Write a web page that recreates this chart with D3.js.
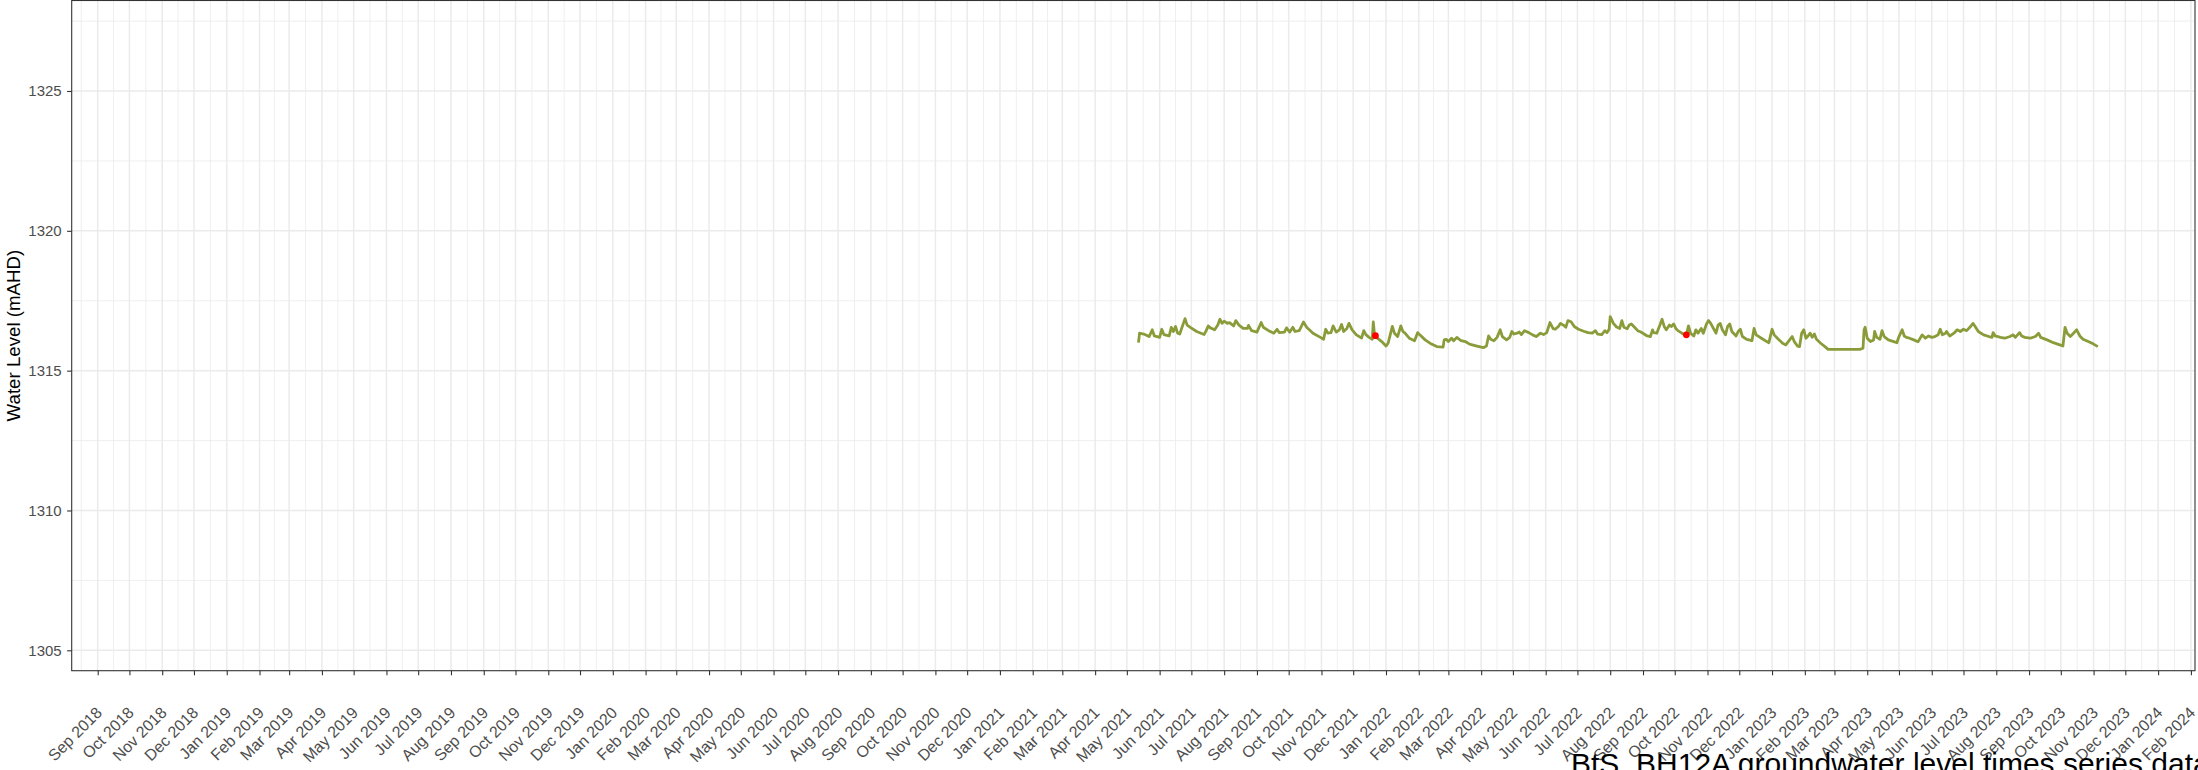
<!DOCTYPE html>
<html>
<head>
<meta charset="utf-8">
<script src="https://cdn.jsdelivr.net/npm/d3@7"></script>
<style>
body { margin: 0; background: #fff; }
text { font-family: "Liberation Sans", Arial, sans-serif; }
</style>
</head>
<body>
<svg id="chart" width="2198" height="770"></svg>
<script>
// logger readings (date, water level mAHD)
const obsDates = [
  "2021-05-12","2021-05-13","2021-05-17","2021-05-22","2021-05-25","2021-05-27","2021-06-01","2021-06-03","2021-06-05","2021-06-10",
  "2021-06-12","2021-06-14","2021-06-16","2021-06-18","2021-06-20","2021-06-25","2021-06-27","2021-06-30","2021-07-06","2021-07-13",
  "2021-07-15","2021-07-17","2021-07-19","2021-07-23","2021-07-26","2021-07-28","2021-07-30","2021-08-01","2021-08-04","2021-08-06",
  "2021-08-10","2021-08-12","2021-08-15","2021-08-19","2021-08-23","2021-08-24","2021-08-27","2021-09-01","2021-09-05","2021-09-07",
  "2021-09-12","2021-09-17","2021-09-20","2021-09-22","2021-09-27","2021-09-29","2021-10-02","2021-10-05","2021-10-07","2021-10-11",
  "2021-10-15","2021-10-18","2021-10-24","2021-10-31","2021-11-03","2021-11-05","2021-11-07","2021-11-10","2021-11-12","2021-11-15",
  "2021-11-18","2021-11-20","2021-11-22","2021-11-25","2021-11-27","2021-11-30","2021-12-04","2021-12-09","2021-12-11","2021-12-13",
  "2021-12-16","2021-12-19","2021-12-20","2021-12-21","2021-12-22","2021-12-23","2021-12-28",
  "2022-01-01","2022-01-03","2022-01-07","2022-01-09","2022-01-12","2022-01-15","2022-01-17","2022-01-19","2022-01-23","2022-01-28",
  "2022-01-31","2022-02-02","2022-02-07","2022-02-13","2022-02-18","2022-02-24","2022-02-25","2022-02-27","2022-03-01","2022-03-04",
  "2022-03-06","2022-03-09","2022-03-13","2022-03-17","2022-03-21","2022-03-28","2022-04-03","2022-04-06","2022-04-08","2022-04-10",
  "2022-04-13","2022-04-16","2022-04-19","2022-04-21","2022-04-25","2022-04-28","2022-04-30","2022-05-02","2022-05-05","2022-05-07",
  "2022-05-09","2022-05-12","2022-05-16","2022-05-20","2022-05-23","2022-05-27","2022-05-30","2022-06-02","2022-06-05","2022-06-08",
  "2022-06-10","2022-06-13","2022-06-15","2022-06-18","2022-06-20","2022-06-22","2022-06-25","2022-06-28","2022-07-02","2022-07-07",
  "2022-07-11","2022-07-15","2022-07-18","2022-07-20","2022-07-24","2022-07-27","2022-07-29","2022-07-31","2022-08-01","2022-08-04",
  "2022-08-07","2022-08-10","2022-08-12","2022-08-14","2022-08-17","2022-08-19","2022-08-21","2022-08-24","2022-08-27","2022-08-30",
  "2022-09-02","2022-09-05","2022-09-08","2022-09-10","2022-09-11","2022-09-14","2022-09-17","2022-09-19","2022-09-21","2022-09-23",
  "2022-09-26","2022-09-28","2022-09-30","2022-10-02","2022-10-04","2022-10-07","2022-10-09","2022-10-12","2022-10-14","2022-10-16",
  "2022-10-19","2022-10-21","2022-10-23","2022-10-26","2022-10-28","2022-10-31","2022-11-02","2022-11-04","2022-11-07","2022-11-09",
  "2022-11-11","2022-11-13","2022-11-15","2022-11-18","2022-11-20","2022-11-22","2022-11-24","2022-11-28","2022-11-30","2022-12-02",
  "2022-12-04","2022-12-08","2022-12-13","2022-12-15","2022-12-17","2022-12-22","2022-12-27","2022-12-29",
  "2023-01-01","2023-01-03","2023-01-07","2023-01-11","2023-01-14","2023-01-18","2023-01-20","2023-01-22","2023-01-25","2023-01-27",
  "2023-01-29","2023-01-31","2023-02-02","2023-02-04","2023-02-06","2023-02-08","2023-02-10","2023-02-12","2023-02-16","2023-02-20",
  "2023-02-23","2023-03-25","2023-03-28","2023-03-29","2023-03-30","2023-04-01","2023-04-04","2023-04-07","2023-04-08","2023-04-10",
  "2023-04-13","2023-04-15","2023-04-17","2023-04-21","2023-04-26","2023-04-29","2023-05-01","2023-05-04","2023-05-06","2023-05-08",
  "2023-05-11","2023-05-15","2023-05-19","2023-05-22","2023-05-23","2023-05-26","2023-05-29","2023-06-01","2023-06-04","2023-06-07",
  "2023-06-09","2023-06-11","2023-06-14","2023-06-15","2023-06-18","2023-06-22","2023-06-25","2023-06-28","2023-07-01","2023-07-04",
  "2023-07-07","2023-07-10","2023-07-12","2023-07-15","2023-07-20","2023-07-25","2023-07-28","2023-07-29","2023-07-31","2023-08-05",
  "2023-08-09","2023-08-14","2023-08-17","2023-08-19","2023-08-23","2023-08-25","2023-08-28","2023-09-02","2023-09-07","2023-09-10",
  "2023-09-12","2023-09-18","2023-09-24","2023-09-30","2023-10-03","2023-10-05","2023-10-07","2023-10-10","2023-10-13","2023-10-16",
  "2023-10-19","2023-10-22","2023-10-27","2023-11-01","2023-11-05"
];
const obsLevels = [
  1316.00,1316.34,1316.31,1316.22,1316.46,1316.24,1316.19,1316.48,1316.29,1316.24,
  1316.55,1316.40,1316.58,1316.34,1316.31,1316.86,1316.63,1316.55,1316.40,1316.29,
  1316.43,1316.60,1316.53,1316.46,1316.63,1316.84,1316.69,1316.77,1316.69,1316.72,
  1316.60,1316.79,1316.63,1316.51,1316.51,1316.62,1316.43,1316.38,1316.72,1316.55,
  1316.43,1316.34,1316.48,1316.36,1316.38,1316.53,1316.38,1316.55,1316.40,1316.43,
  1316.74,1316.55,1316.34,1316.19,1316.12,1316.48,1316.34,1316.36,1316.60,1316.38,
  1316.46,1316.65,1316.40,1316.51,1316.69,1316.46,1316.28,1316.17,1316.43,1316.29,
  1316.19,1316.12,1316.74,1316.34,1316.24,1316.19,1316.04,
  1315.88,1315.98,1316.58,1316.34,1316.22,1316.60,1316.40,1316.34,1316.16,1316.07,
  1316.36,1316.28,1316.10,1315.95,1315.86,1315.84,1316.10,1316.12,1316.04,1316.16,
  1316.07,1316.19,1316.07,1316.04,1315.95,1315.88,1315.82,1315.88,1316.24,1316.12,
  1316.07,1316.19,1316.46,1316.22,1316.10,1316.19,1316.40,1316.31,1316.34,1316.38,
  1316.29,1316.43,1316.36,1316.27,1316.22,1316.34,1316.29,1316.36,1316.72,1316.50,
  1316.48,1316.58,1316.69,1316.62,1316.55,1316.79,1316.75,1316.58,1316.48,1316.41,
  1316.36,1316.34,1316.43,1316.31,1316.29,1316.43,1316.36,1316.48,1316.93,1316.69,
  1316.56,1316.51,1316.79,1316.55,1316.50,1316.63,1316.67,1316.55,1316.43,1316.38,
  1316.31,1316.24,1316.22,1316.46,1316.36,1316.34,1316.63,1316.84,1316.58,1316.46,
  1316.63,1316.58,1316.67,1316.51,1316.43,1316.36,1316.31,1316.28,1316.60,1316.34,
  1316.24,1316.46,1316.34,1316.51,1316.34,1316.67,1316.79,1316.69,1316.48,1316.34,
  1316.63,1316.69,1316.46,1316.28,1316.58,1316.67,1316.40,1316.24,1316.40,1316.48,
  1316.22,1316.12,1316.07,1316.51,1316.28,1316.16,1316.04,1316.00,
  1316.48,1316.28,1316.12,1315.98,1315.92,1316.12,1316.22,1316.04,1315.88,1315.86,
  1316.34,1316.46,1316.16,1316.24,1316.34,1316.19,1316.31,1316.12,1315.98,1315.86,
  1315.76,1315.76,1315.80,1316.46,1316.55,1316.16,1316.04,1316.10,1316.40,1316.19,
  1316.12,1316.43,1316.22,1316.10,1316.04,1316.00,1316.22,1316.46,1316.24,1316.19,
  1316.16,1316.10,1316.03,1316.22,1316.28,1316.16,1316.24,1316.19,1316.22,1316.28,
  1316.48,1316.28,1316.34,1316.40,1316.24,1316.34,1316.46,1316.40,1316.48,1316.43,
  1316.55,1316.69,1316.58,1316.40,1316.28,1316.22,1316.19,1316.36,1316.24,1316.19,
  1316.16,1316.22,1316.28,1316.19,1316.36,1316.24,1316.19,1316.16,1316.22,1316.34,
  1316.19,1316.10,1316.00,1315.92,1315.88,1316.55,1316.34,1316.22,1316.34,1316.46,
  1316.24,1316.12,1316.04,1315.95,1315.86
];
// manual dip readings (red points)
const dipDates = ["2021-12-22", "2022-10-12"];
const dipLevels = [1316.25, 1316.28];

const yTicks = [1305, 1310, 1315, 1320, 1325];
const yMinorTicks = [1307.5, 1312.5, 1317.5, 1322.5, 1327.5];
const firstMonth = "2018-09-01";
const lastMonth = "2024-02-01";
const yTitle = "Water Level (mAHD)";
const chartTitle = "BtS_BH12A groundwater level times series data";

const panel = {left: 71.7, right: 2195, top: 0.5, bottom: 670.7};
const parse = d3.utcParse("%Y-%m-%d");

const x = d3.scaleUtc()
  .domain([parse(firstMonth), parse(lastMonth)])
  .range([97.7, 2190.9]);
const y = d3.scaleLinear()
  .domain([1305, 1325])
  .range([650.3, 91]);

const svg = d3.select("#chart");
svg.append("rect").attr("width", 2198).attr("height", 770).attr("fill", "#fff");

const months = d3.utcMonth.range(parse(firstMonth), d3.utcMonth.offset(parse(lastMonth), 1));
const minorX = months.map(m => (x(m) + x(d3.utcMonth.offset(m, -1))) / 2)
  .filter(v => v > panel.left && v < panel.right);

const grid = svg.append("g");
// minor grid
grid.selectAll(".vmin").data(minorX).enter().append("line")
  .attr("x1", d => d).attr("x2", d => d)
  .attr("y1", panel.top).attr("y2", panel.bottom)
  .attr("stroke", "#EBEBEB").attr("stroke-width", 0.8);
grid.selectAll(".hmin").data(yMinorTicks).enter().append("line")
  .attr("x1", panel.left).attr("x2", panel.right)
  .attr("y1", d => y(d)).attr("y2", d => y(d))
  .attr("stroke", "#EBEBEB").attr("stroke-width", 0.8);
// major grid
grid.selectAll(".vmaj").data(months).enter().append("line")
  .attr("x1", d => x(d)).attr("x2", d => x(d))
  .attr("y1", panel.top).attr("y2", panel.bottom)
  .attr("stroke", "#EBEBEB").attr("stroke-width", 1.5);
grid.selectAll(".hmaj").data(yTicks).enter().append("line")
  .attr("x1", panel.left).attr("x2", panel.right)
  .attr("y1", d => y(d)).attr("y2", d => y(d))
  .attr("stroke", "#EBEBEB").attr("stroke-width", 1.5);

const series = obsDates.map((d, i) => ({date: parse(d), level: obsLevels[i]}));
const line = d3.line().x(d => x(d.date)).y(d => y(d.level));
svg.append("path")
  .datum(series)
  .attr("d", line)
  .attr("fill", "none")
  .attr("stroke", "#8A9C3A")
  .attr("stroke-width", 2.8)
  .attr("stroke-linejoin", "round");

svg.selectAll(".dip").data(dipDates).enter().append("circle")
  .attr("cx", d => x(parse(d)))
  .attr("cy", (d, i) => y(dipLevels[i]))
  .attr("r", 3.4)
  .attr("fill", "#FF0000");

// panel border
svg.append("rect")
  .attr("x", panel.left).attr("y", panel.top)
  .attr("width", panel.right - panel.left).attr("height", panel.bottom - panel.top)
  .attr("fill", "none").attr("stroke", "#333").attr("stroke-width", 1.1);

// axes
const gx = svg.append("g")
  .attr("transform", `translate(0,${panel.bottom})`)
  .call(d3.axisBottom(x).tickValues(months).tickFormat(d3.utcFormat("%b %Y")).tickSize(4.6).tickSizeOuter(0));
gx.attr("font-family", null).attr("font-size", 16);
gx.select(".domain").remove();
gx.selectAll(".tick line").attr("stroke", "#333").attr("stroke-width", 1.1);
gx.selectAll(".tick text")
  .attr("y", 0).attr("dy", "0.35em")
  .attr("text-anchor", "end")
  .attr("transform", "translate(1,39) rotate(-45)")
  .attr("fill", "#4D4D4D");

const gy = svg.append("g")
  .attr("transform", `translate(${panel.left},0)`)
  .call(d3.axisLeft(y).tickValues(yTicks).tickFormat(d3.format("d")).tickSize(4.6).tickPadding(5.4));
gy.attr("font-family", null).attr("font-size", 15);
gy.select(".domain").remove();
gy.selectAll(".tick line").attr("stroke", "#333").attr("stroke-width", 1.1);
gy.selectAll(".tick text").attr("fill", "#4D4D4D");

svg.append("text")
  .attr("transform", `translate(20,${(panel.top + panel.bottom) / 2}) rotate(-90)`)
  .attr("text-anchor", "middle")
  .attr("font-size", 18.7)
  .attr("fill", "#000")
  .text(yTitle);

svg.append("text")
  .attr("x", 1571).attr("y", 774)
  .attr("font-size", 30)
  .attr("fill", "#000")
  .text(chartTitle);
</script>
</body>
</html>
